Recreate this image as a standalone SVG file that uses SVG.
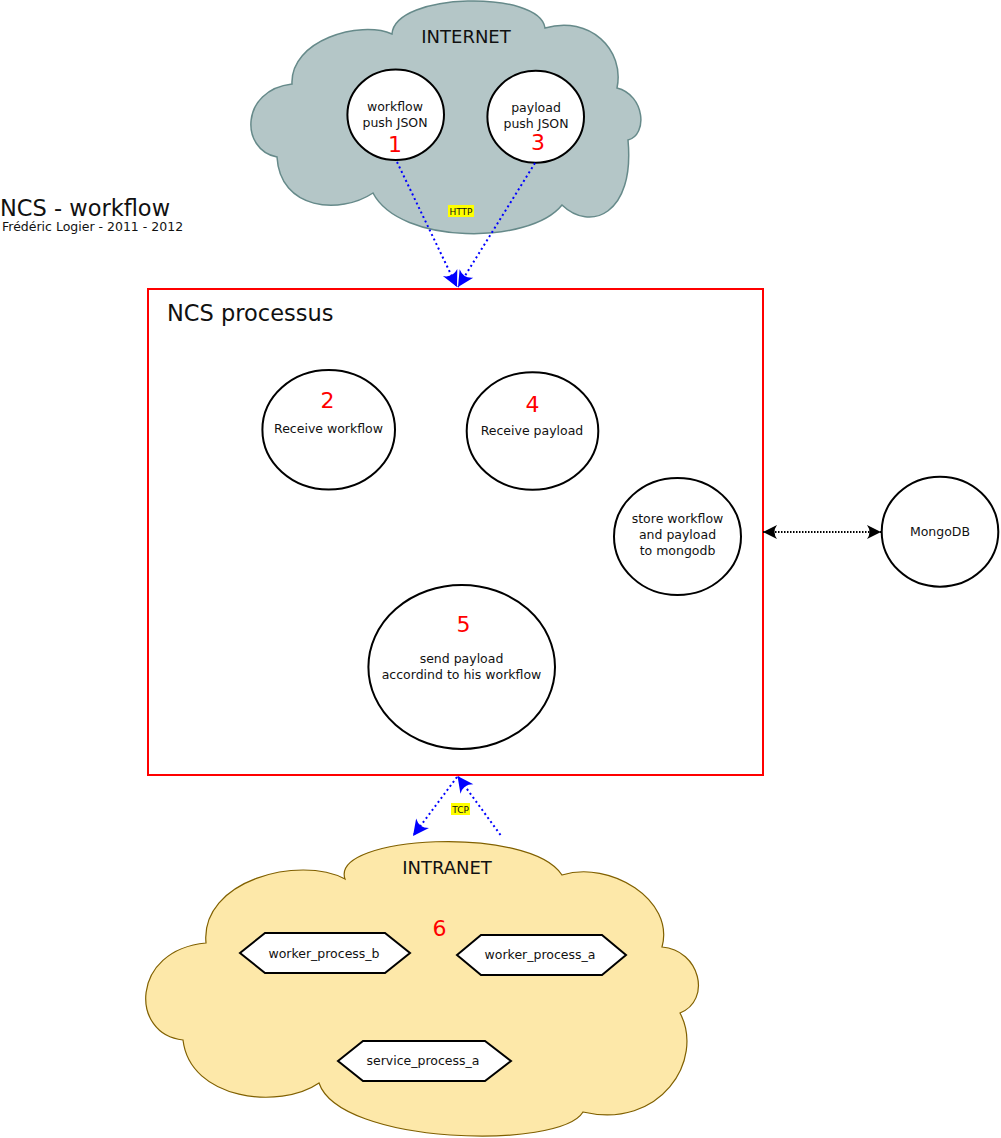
<svg xmlns="http://www.w3.org/2000/svg" width="1001" height="1138" viewBox="0 0 1001 1138">
<style>
text{font-family:"DejaVu Sans","Liberation Sans",sans-serif;fill:#111}
.s{font-size:12.5px;text-anchor:middle}
.n{font-size:22px;fill:#f00;text-anchor:middle}
.t{font-size:18px;text-anchor:middle}
.h{font-size:22.5px}
.lbl{font-size:9px;text-anchor:middle}
.node{fill:#fff;stroke:#000;stroke-width:2}
.blue{stroke:#00f;stroke-width:2;stroke-dasharray:2 3;fill:none}
.blk{stroke:#000;stroke-width:2;stroke-dasharray:1.5 1.5;fill:none}
</style>
<defs>
<marker id="ab" viewBox="-18 -10 19 20" markerWidth="19" markerHeight="20" refX="0" refY="0" orient="auto" markerUnits="userSpaceOnUse"><path d="M0,0 L-16,-8 Q-10,0 -16,8 Z" fill="#00f"/></marker>
<marker id="ak" viewBox="-16 -9 17 18" markerWidth="17" markerHeight="18" refX="0" refY="0" orient="auto-start-reverse" markerUnits="userSpaceOnUse"><path d="M0,0 L-14,-7 Q-9,0 -14,7 Z" fill="#000"/></marker>
</defs>
<rect width="1001" height="1138" fill="#fff"/>

<g id="internet">
<path d="M292,84 C290,40 360,20 392,34 C395,-8 540,-10 545,28 C590,15 625,50 617,88 C645,95 648,135 628,140 C635,215 590,232 562,205 C530,245 400,245 373,193 C340,215 280,210 277,157 C240,150 240,90 292,84 Z" fill="#b4c6c7" stroke="#668a8a" stroke-width="1.5"/>
<text class="t" x="466" y="43">INTERNET</text>
</g>

<g id="title">
<text class="h" x="0" y="216">NCS - workflow</text>
<text x="2" y="231" font-size="12.5">Frédéric Logier - 2011 - 2012</text>
</g>

<g id="n1">
<ellipse class="node" cx="395.7" cy="114.7" rx="48.3" ry="45.3"/>
<text class="s" x="395" y="111">workflow</text>
<text class="s" x="395" y="127">push JSON</text>
<text class="n" x="395" y="151.5">1</text>
</g>
<g id="n3">
<ellipse class="node" cx="535.7" cy="116.7" rx="48.3" ry="46"/>
<text class="s" x="536" y="112">payload</text>
<text class="s" x="536" y="128">push JSON</text>
<text class="n" x="538" y="149.5">3</text>
</g>

<g id="ncs">
<rect x="148" y="289" width="615" height="486" fill="none" stroke="#f00" stroke-width="2"/>
<text class="h" x="167" y="321">NCS processus</text>
</g>

<g id="n2">
<ellipse class="node" cx="328.7" cy="429.7" rx="66.3" ry="59.7"/>
<text class="n" x="327.5" y="408">2</text>
<text class="s" x="328.5" y="432.5">Receive workflow</text>
</g>
<g id="n4">
<ellipse class="node" cx="532.5" cy="431" rx="65.8" ry="58.8"/>
<text class="n" x="532.5" y="412">4</text>
<text class="s" x="532" y="435">Receive payload</text>
</g>
<g id="store">
<ellipse class="node" cx="677.5" cy="536.5" rx="63.5" ry="58.5"/>
<text class="s" x="677.5" y="523">store workflow</text>
<text class="s" x="677.5" y="539">and payload</text>
<text class="s" x="677.5" y="555">to mongodb</text>
</g>
<g id="n5">
<ellipse class="node" cx="461.7" cy="667" rx="93.3" ry="82"/>
<text class="n" x="463.5" y="631.5">5</text>
<text class="s" x="461.5" y="663">send payload</text>
<text class="s" x="461.5" y="678.5">accordind to his workflow</text>
</g>
<g id="mongodb">
<ellipse class="node" cx="940" cy="531.7" rx="58.3" ry="55"/>
<text class="s" x="940" y="535.5">MongoDB</text>
</g>

<g id="intranet">
<path d="M345,879 C330,835 530,825 562,875 C610,860 675,900 662,947 C700,950 712,1000 680,1013 C705,1060 660,1130 583,1112 C560,1150 340,1145 319,1083 C280,1110 190,1100 183,1040 C130,1035 130,950 206,943 C200,880 300,855 345,879 Z" fill="#fde8a9" stroke="#806000" stroke-width="1.2"/>
<text class="t" x="447" y="874">INTRANET</text>
<text class="n" x="439.5" y="936">6</text>
</g>
<g id="wpb">
<polygon class="node" points="240,953 265,933 385,933 410,953 385,973 265,973"/>
<text class="s" x="324" y="957.5">worker_process_b</text>
</g>
<g id="wpa">
<polygon class="node" points="457,955 481,935 602,935 626,955 602,975 481,975"/>
<text class="s" x="540" y="959">worker_process_a</text>
</g>
<g id="spa">
<polygon class="node" points="338,1061 363,1041 485,1041 511,1061 485,1081 363,1081"/>
<text class="s" x="423" y="1065">service_process_a</text>
</g>

<g id="connectors">
<line class="blue" x1="397" y1="162" x2="457" y2="287" marker-end="url(#ab)"/>
<line class="blue" x1="535" y1="163" x2="458" y2="287" marker-end="url(#ab)"/>
<rect x="448" y="205" width="26" height="12" fill="#ff0"/>
<text class="lbl" x="461" y="214.5">HTTP</text>
<line class="blue" x1="500.5" y1="835" x2="457.5" y2="776" marker-end="url(#ab)"/>
<line class="blue" x1="457" y1="777" x2="413" y2="836" marker-end="url(#ab)"/>
<rect x="451" y="803" width="19" height="12" fill="#ff0"/>
<text class="lbl" x="460.5" y="812.5">TCP</text>
<line class="blk" x1="763" y1="532" x2="881" y2="532" marker-start="url(#ak)" marker-end="url(#ak)"/>
</g>
</svg>
